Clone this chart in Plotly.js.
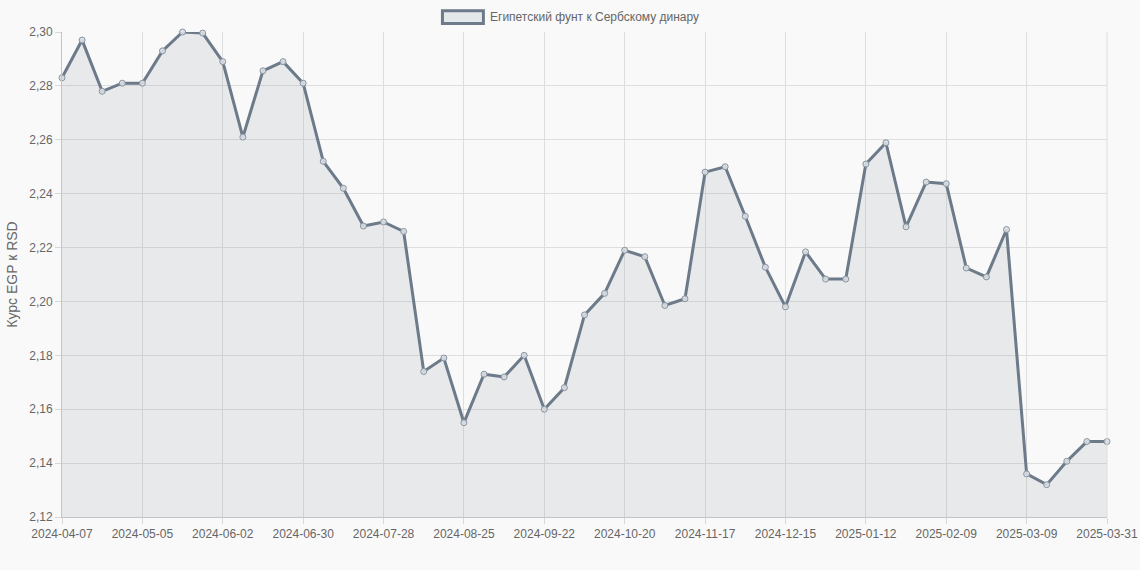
<!DOCTYPE html>
<html>
<head>
<meta charset="utf-8">
<script src="https://cdn.plot.ly/plotly-3.0.1.min.js"></script>
<style>
  html, body { margin: 0; padding: 0; background: #f9f9f9; }
  #chart { width: 1140px; height: 570px; }
</style>
</head>
<body>
<div id="chart"></div>
<script>
const dates = [
  "2024-04-07","2024-04-14","2024-04-21","2024-04-28","2024-05-05","2024-05-12","2024-05-19","2024-05-26",
  "2024-06-02","2024-06-09","2024-06-16","2024-06-23","2024-06-30","2024-07-07","2024-07-14","2024-07-21",
  "2024-07-28","2024-08-04","2024-08-11","2024-08-18","2024-08-25","2024-09-01","2024-09-08","2024-09-15",
  "2024-09-22","2024-09-29","2024-10-06","2024-10-13","2024-10-20","2024-10-27","2024-11-03","2024-11-10",
  "2024-11-17","2024-11-24","2024-12-01","2024-12-08","2024-12-15","2024-12-22","2024-12-29","2025-01-05",
  "2025-01-12","2025-01-19","2025-01-26","2025-02-02","2025-02-09","2025-02-16","2025-02-23","2025-03-02",
  "2025-03-09","2025-03-16","2025-03-23","2025-03-30","2025-03-31"
];
const rates = [
  2.283, 2.297, 2.278, 2.281, 2.281, 2.293, 2.300, 2.2996,
  2.289, 2.261, 2.2856, 2.289, 2.281, 2.252, 2.242, 2.228,
  2.2295, 2.226, 2.174, 2.179, 2.155, 2.173, 2.172, 2.180,
  2.160, 2.168, 2.195, 2.203, 2.219, 2.2166, 2.1985, 2.201,
  2.248, 2.250, 2.2316, 2.2127, 2.198, 2.2184, 2.2083, 2.2083,
  2.251, 2.2589, 2.2277, 2.2443, 2.2437, 2.2124, 2.2091, 2.2267,
  2.136, 2.132, 2.1407, 2.148, 2.148
];
const tickDates = [
  "2024-04-07","2024-05-05","2024-06-02","2024-06-30","2024-07-28","2024-08-25","2024-09-22",
  "2024-10-20","2024-11-17","2024-12-15","2025-01-12","2025-02-09","2025-03-09","2025-03-31"
];
const yTicks = [2.12, 2.14, 2.16, 2.18, 2.20, 2.22, 2.24, 2.26, 2.28, 2.30];
const seriesName = "Египетский фунт к Сербскому динару";
const yTitle = "Курс EGP к RSD";

const lineColor = "#6c7a89";
const font = { family: "'Liberation Sans', Arial, Helvetica, sans-serif", size: 12, color: "#666666" };

const trace = {
  type: "scatter",
  mode: "lines+markers",
  x: dates,
  y: rates,
  name: seriesName,
  showlegend: false,
  fill: "tozeroy",
  fillcolor: "rgba(108,122,137,0.12)",
  line: { color: lineColor, width: 3 },
  marker: { size: 6, color: "rgba(220,224,228,0.9)", line: { color: "#8693a0", width: 1 } },
  cliponaxis: false,
  hoverinfo: "x+y"
};

const layout = {
  width: 1140,
  height: 570,
  paper_bgcolor: "#f9f9f9",
  plot_bgcolor: "#f9f9f9",
  separators: ", ",
  font: font,
  margin: { l: 62, r: 33, t: 32, b: 53, pad: 0 },
  showlegend: false,
  xaxis: {
    type: "category",
    range: [0, dates.length - 1],
    tickmode: "array",
    tickvals: tickDates,
    ticktext: tickDates,
    tickangle: 0,
    ticks: "outside",
    ticklen: 6,
    tickcolor: "#d8d8d8",
    showgrid: true,
    gridcolor: "#dedede",
    gridwidth: 1,
    showline: true,
    linecolor: "#c4c4c4",
    linewidth: 1,
    mirror: false,
    zeroline: false,
    tickfont: font,
    fixedrange: true
  },
  yaxis: {
    range: [2.12, 2.30],
    tickmode: "array",
    tickvals: yTicks,
    tickformat: ".2f",
    ticks: "outside",
    ticklen: 6,
    tickcolor: "#d8d8d8",
    showgrid: true,
    gridcolor: "#dedede",
    gridwidth: 1,
    showline: true,
    linecolor: "#c4c4c4",
    linewidth: 1,
    zeroline: false,
    tickfont: font,
    title: { text: yTitle, font: { family: font.family, size: 14, color: "#666666" }, standoff: 8 },
    fixedrange: true
  },
  shapes: [
    { type: "line", xref: "paper", yref: "paper", x0: 1, x1: 1, y0: 0, y1: 1, line: { color: "#dedede", width: 1 } },
    { type: "rect", xref: "paper", yref: "paper", x0: 0.36405, x1: 0.40325, y0: 1.0175, y1: 1.0440,
      line: { color: lineColor, width: 3 }, fillcolor: "#e5e8eb" }
  ],
  annotations: [
    { xref: "paper", yref: "paper", x: 0.4080, y: 1.031, xanchor: "left", yanchor: "middle",
      text: seriesName, showarrow: false, font: font }
  ]
};

Plotly.newPlot("chart", [trace], layout, { displayModeBar: false, staticPlot: true });
</script>
</body>
</html>
